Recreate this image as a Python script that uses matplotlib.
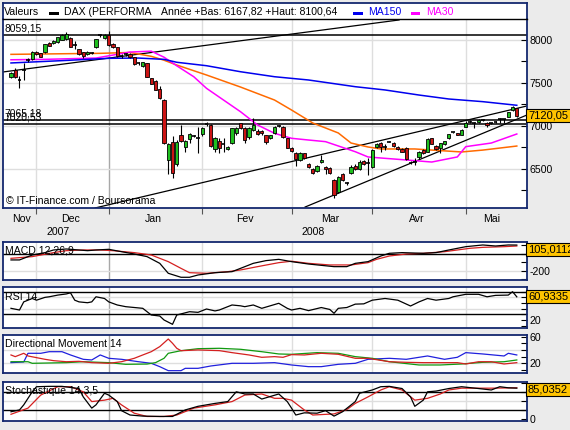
import numpy as np
import matplotlib.pyplot as plt
from matplotlib.patches import Rectangle
from matplotlib.transforms import blended_transform_factory

plt.rcParams.update({
    "font.family": "sans-serif",
    "font.sans-serif": ["Liberation Sans"],
    "font.size": 7.6,
    "axes.unicode_minus": False,
})

# ---------------- data ----------------
opens = [7566, 7651, 7543, 7650, 7765, 7775, 7864, 7845, 7857, 7961,
         7961, 7973, 8000, 8010, 8019, 7945, 7890, 7855, 7833, 7855,
         7915, 8055, 8019, 8058, 7953, 7915, 7815, 7830, 7837, 7799,
         7725, 7698, 7729, 7554, 7523, 7430, 7302, 6605, 6818, 6558,
         6895, 6752, 6845, 6880, 6870, 6903, 7015, 7012, 6729, 6829,
         6780, 6729, 6798, 6915, 7031, 6973, 6868, 6953, 6942, 6942,
         6895, 6857, 6915, 7000, 6984, 6857, 6748, 6690, 6605, 6682,
         6558, 6500, 6477, 6581, 6527, 6510, 6372, 6236, 6442, 6330,
         6450, 6535, 6500, 6593, 6566, 6519, 6752, 6798, 6765, 6820,
         6798, 6760, 6733, 6740, 6570, 6585, 6636, 6721, 6702, 6857,
         6768, 6740, 6790, 6857, 6925, 6915, 6895, 6992, 7050, 7030,
         7043, 7070, 7039, 7030, 7050, 7078, 7080, 7109, 7186, 7205]
highs = [7632, 7671, 7581, 7729, 7787, 7875, 7870, 7850, 7955, 7975,
         8000, 8035, 8075, 8090, 8030, 7990, 7900, 7860, 7870, 7865,
         8010, 8075, 8070, 8100, 7965, 7920, 7840, 7850, 7845, 7805,
         7740, 7745, 7735, 7560, 7530, 7460, 7310, 6800, 6880, 6840,
         7012, 6840, 6915, 6890, 6992, 6990, 7045, 7020, 6870, 6860,
         6857, 6770, 6980, 6990, 7040, 6985, 6985, 7090, 6960, 6950,
         6900, 6900, 6995, 7010, 6995, 6860, 6760, 6700, 6700, 6690,
         6565, 6510, 6545, 6665, 6540, 6520, 6385, 6420, 6450, 6350,
         6545, 6560, 6600, 6610, 6625, 6730, 6800, 6810, 6790, 6830,
         6810, 6765, 6740, 6750, 6590, 6625, 6710, 6730, 6860, 6865,
         6775, 6805, 6830, 6905, 6935, 6920, 6960, 7060, 7070, 7050,
         7080, 7080, 7045, 7040, 7060, 7090, 7085, 7165, 7230, 7215]
lows = [7554, 7554, 7446, 7535, 7748, 7765, 7825, 7800, 7850, 7930,
        7955, 7965, 7995, 8000, 7915, 7890, 7825, 7790, 7820, 7840,
        7905, 8040, 8010, 7935, 7910, 7800, 7790, 7815, 7795, 7715,
        7710, 7690, 7570, 7485, 7415, 7315, 6790, 6440, 6392, 6540,
        6810, 6700, 6800, 6870, 6690, 6880, 7005, 6750, 6700, 6690,
        6700, 6720, 6790, 6900, 6970, 6800, 6850, 6940, 6890, 6900,
        6790, 6845, 6905, 6990, 6860, 6740, 6700, 6530, 6595, 6620,
        6510, 6440, 6470, 6575, 6440, 6440, 6168, 6220, 6360, 6310,
        6440, 6490, 6490, 6550, 6430, 6510, 6740, 6700, 6720, 6810,
        6760, 6720, 6700, 6600, 6560, 6550, 6620, 6680, 6695, 6785,
        6720, 6690, 6780, 6850, 6915, 6890, 6890, 6985, 7040, 6980,
        7035, 7060, 6985, 7020, 7030, 7030, 7040, 7100, 7180, 7110]
closes = [7612, 7566, 7540, 7655, 7770, 7864, 7835, 7806, 7950, 7935,
          7992, 8030, 8058, 8070, 7922, 7940, 7833, 7815, 7864, 7850,
          8008, 8058, 8058, 7942, 7915, 7814, 7818, 7833, 7799, 7721,
          7729, 7740, 7574, 7490, 7420, 7322, 6798, 6790, 6450, 6818,
          6820, 6829, 6903, 6880, 6866, 6973, 7019, 6767, 6857, 6740,
          6785, 6760, 6973, 6973, 6981, 6837, 6973, 7012, 6903, 6915,
          6818, 6895, 6992, 7002, 6868, 6748, 6710, 6612, 6690, 6625,
          6519, 6450, 6535, 6605, 6500, 6458, 6198, 6403, 6372, 6335,
          6527, 6496, 6585, 6558, 6570, 6721, 6791, 6752, 6760, 6818,
          6768, 6729, 6702, 6612, 6574, 6580, 6702, 6682, 6845, 6791,
          6729, 6798, 6826, 6903, 6927, 6895, 6953, 7031, 7052, 7033,
          7070, 7068, 7012, 7031, 7052, 7080, 7078, 7159, 7225, 7120.05]

ma150_i = [0, 12, 23, 30, 36, 39, 46, 54, 62, 70, 81, 88, 96, 103, 111, 119]
ma150_v = [7733, 7760, 7787, 7790, 7775, 7741, 7701, 7631, 7573, 7535, 7457,
           7419, 7360, 7314, 7283, 7241]
ma30_i = [0, 8, 20, 28, 33, 36, 39, 43, 46, 50, 54, 58, 62, 66, 70, 74, 81,
          84, 87, 93, 99, 105, 107, 113, 119]
ma30_v = [7770, 7775, 7790, 7860, 7870, 7800, 7700, 7573, 7438, 7302, 7166,
          7012, 6915, 6857, 6837, 6818, 6701, 6640, 6628, 6605, 6581, 6640,
          6760, 6802, 6907]
ma_or_i = [0, 12, 21, 28, 33, 36, 39, 46, 54, 62, 66, 71, 77, 80, 84, 87, 95,
           106, 111, 119]
ma_or_v = [7833, 7840, 7845, 7855, 7810, 7765, 7709, 7593, 7453, 7302, 7186,
           7035, 6919, 6802, 6756, 6733, 6733, 6698, 6720, 6767]

# user trend lines: (index, price) -> (index, price)
trend_lines = [((-1.9, 7628), (91.3, 8233)),
               ((19.8, 6047), (121.4, 7233)),
               ((69.2, 6058), (121.4, 7128))]
levels = [8059.15, 7065.18, 7020.53]
level_labels = ["8059,15", "7065,18", "7020,53"]

month_starts = [6, 23, 45, 66, 85, 107]
month_names = ["Nov", "Dec", "Jan", "Fev", "Mar", "Avr", "Mai"]
year_names = ["2007", "2008"]

macd_i = [0, 2, 5, 8, 10, 13, 18, 20, 23, 26, 29, 32, 35, 37, 40, 42, 44, 48,
          52, 54, 57, 60, 63, 66, 70, 76, 79, 81, 84, 87, 89, 92, 97, 100, 103,
          107, 111, 114, 117, 119]
macd_v = [-70, -70, -12, 16, 47, 59, 39, 47, 55, 27, 0, -31, -110, -227, -274,
          -274, -247, -220, -208, -169, -110, -78, -63, -90, -118, -149, -149,
          -110, -90, -24, 8, 16, 8, 16, 47, 86, 106, 94, 106, 105.01]
sig_i = [0, 5, 10, 13, 17, 21, 24, 29, 33, 37, 40, 42, 46, 51, 54, 58, 63, 66,
         70, 75, 80, 84, 86, 89, 93, 97, 102, 105, 108, 111, 116, 119]
sig_v = [-51, -31, 16, 39, 47, 47, 39, 16, -12, -90, -169, -220, -227, -208,
         -188, -149, -102, -85, -110, -129, -129, -102, -63, -24, 0, 8, 27, 47,
         67, 78, 86, 94]

rsi_i = [0, 2, 3, 5, 6, 8, 9, 11, 13, 14, 15, 16, 18, 19, 20, 22, 23, 25, 27,
         31, 33, 35, 36, 38, 39, 42, 44, 46, 48, 49, 52, 54, 55, 57, 59, 63, 65,
         66, 68, 70, 73, 75, 76, 77, 79, 81, 83, 85, 88, 91, 94, 96, 98, 100,
         103, 104, 107, 110, 112, 114, 117, 118, 119]
rsi_v = [40.6, 37.6, 52, 58, 55, 60, 61, 64, 66, 68, 55, 52, 50.5, 52, 61, 58,
         52, 46.5, 43.5, 40.6, 28.8, 27, 20, 12.3, 28.8, 34.6, 33.5, 39.4, 36,
         37.6, 46.5, 45, 43.5, 46.5, 40.6, 49.5, 40.6, 37.6, 40.6, 36.5, 42,
         38.6, 31.8, 40.6, 42, 48, 48.5, 55, 58, 55, 44.7, 52, 58, 55, 58, 61,
         65.4, 65.4, 61, 63.5, 64, 70, 60.93]

dmr_i = [0, 1, 3, 4, 8, 10, 13, 16, 19, 23, 26, 29, 31, 33, 35, 37, 38, 39, 40,
         44, 49, 52, 56, 59, 62, 64, 66, 69, 73, 77, 81, 84, 89, 93, 97, 101,
         105, 107, 110, 113, 116, 119]
dmr_v = [32.5, 30, 35, 31, 26, 24, 22.4, 23, 21, 20, 22.4, 27.5, 32.5, 37.4,
         45, 56.4, 50, 42.5, 38.9, 40, 39, 36, 32.5, 29, 30, 29, 33, 32.5, 35,
         33.5, 27.5, 27.5, 22.4, 21.5, 21, 21, 21, 19, 22.4, 22.4, 19, 21]
dmg_i = [0, 4, 5, 13, 17, 23, 27, 32, 34, 36, 37, 40, 44, 49, 54, 59, 63, 66,
         72, 77, 81, 85, 89, 96, 101, 106, 111, 116, 119]
dmg_v = [22.4, 22.4, 20, 21, 22.4, 21, 18.5, 18.9, 21, 27.5, 35, 38.9, 41.9,
         42.5, 41, 37.4, 34, 33.5, 36, 35, 30, 27.5, 22.4, 17.5, 17.5, 19, 21.5,
         22.4, 25]
dmb_i = [0, 3, 4, 7, 9, 12, 14, 17, 19, 21, 23, 26, 30, 33, 35, 37, 40, 41, 44,
         47, 52, 57, 62, 66, 70, 73, 77, 81, 84, 89, 93, 98, 102, 105, 107, 111,
         116, 117, 119]
dmb_v = [21, 22, 35, 35, 37.4, 37.4, 32.5, 26, 25, 32.5, 27.5, 26, 22.4, 20,
         15, 9, 9, 12.5, 12.5, 16, 20, 20, 21, 17.5, 15, 15, 18.5, 20, 26, 27.5,
         26, 31, 26, 29, 36, 34, 31, 35, 32.5]

stk_i = [0, 2, 3, 5, 6, 9, 12, 16, 17, 19, 20, 22, 23, 25, 26, 28, 31, 35, 38,
         41, 44, 48, 51, 53, 55, 57, 59, 63, 65, 66, 67, 69, 72, 74, 76, 78, 81,
         82, 85, 87, 89, 92, 94, 95, 97, 98, 100, 103, 106, 110, 113, 115, 117,
         119]
stk_v = [20, 25, 39, 75, 89, 90, 90, 84, 61, 30, 39, 71, 66, 48, 23, 11, 8, 7,
         7, 25, 35, 43, 48, 75, 69, 69, 55, 69, 48, 30, 11, 17, 16, 23, 8, 20,
         48, 71, 80, 89, 90, 84, 61, 35, 52, 75, 77, 84, 89, 84, 80, 89, 86,
         85.04]
std_i = [0, 4, 7, 11, 14, 17, 19, 22, 24, 26, 29, 32, 36, 39, 43, 48, 52, 55,
         59, 62, 64, 66, 69, 71, 76, 79, 81, 84, 87, 89, 92, 95, 98, 101, 103,
         106, 113, 119]
std_v = [13, 30, 66, 89, 89, 75, 48, 52, 57, 39, 16, 7, 7, 11, 30, 39, 48, 66,
         69, 57, 57, 52, 25, 11, 14, 26, 43, 61, 80, 89, 80, 52, 57, 69, 80, 85,
         85, 86]

# ---------------- styling ----------------
W, H = 570, 430
BG = "#ebebeb"
NAVY = "#14286e"
GRID = "#dedede"
YEARGRID = "#a8a8a8"
UP, DOWN = "#1fbf1f", "#cc1414"
RED = "#d42020"
GOLD = "#ffc400"
XMIN, XMAX = -1.88, 121.4

n = len(opens)
idx = np.arange(n)

fig = plt.figure(figsize=(W / 100, H / 100), dpi=100, facecolor=BG)


def px_axes(x0, y0, x1, y1):
    ax = fig.add_axes([x0 / W, 1 - y1 / H, (x1 - x0) / W, (y1 - y0) / H])
    ax.set_facecolor("white")
    for s in ax.spines.values():
        s.set_color(NAVY)
        s.set_linewidth(1.3)
    return ax


def panel(y0, y1, ylim):
    ax = px_axes(3, y0, 527, y1)
    ax.set_xlim(XMIN, XMAX)
    ax.set_ylim(*ylim)
    for m in month_starts:
        ax.axvline(m, color=YEARGRID if m == 23 else GRID, lw=1.0, zorder=0)
    ax.set_xticks([])
    ax.yaxis.tick_right()
    ax.tick_params(axis="y", which="both", direction="in", length=4,
                   width=0.8, pad=2, labelsize=7.6)
    return ax


def value_box(y, text):
    fig.add_artist(Rectangle((526 / W, 1 - (y + 6.5) / H), 46 / W, 13 / H,
                             transform=fig.transFigure, fc=GOLD, ec="k",
                             lw=0.8, zorder=10))
    fig.text(528 / W, 1 - y / H, text, ha="left", va="center", fontsize=8,
             zorder=11)


def ftext(x, y, s, **kw):
    fig.text(x / W, 1 - y / H, s, va="center", ha="left", zorder=12, **kw)


# ---------------- header ----------------
head = px_axes(3, 3, 527, 18.5)
head.set_xticks([])
head.set_yticks([])
head.spines["bottom"].set_visible(False)
ftext(4, 12, "Valeurs")
fig.add_artist(Rectangle((49 / W, 1 - 15 / H), 10 / W, 3.3 / H,
                         transform=fig.transFigure, fc="k", ec="none"))
ftext(64, 12, "DAX (PERFORMA")
ftext(161, 12, "Année +Bas: 6167,82 +Haut: 8100,64")
fig.add_artist(Rectangle((352.5 / W, 1 - 15 / H), 10 / W, 3.3 / H,
                         transform=fig.transFigure, fc="#0000ee", ec="none"))
ftext(368, 12, "MA150", color="#0000ee")
fig.add_artist(Rectangle((410.5 / W, 1 - 15 / H), 10 / W, 3.3 / H,
                         transform=fig.transFigure, fc="#ff00ff", ec="none"))
ftext(426, 12, "MA30", color="#ff00ff")

# ---------------- price panel ----------------
ax = panel(18.5, 208, (6046.5, 8250))
ax.spines["top"].set_color("k")
ax.spines["top"].set_linewidth(1.0)
for p in [6500, 7000, 7500, 8000]:
    ax.axhline(p, color=GRID, lw=1.0, zorder=0)
ax.set_yticks([6500, 7000, 7500, 8000])
ax.set_yticks([6250, 6750, 7250, 7750], minor=True)
ax.set_xticks(month_starts)
ax.tick_params(axis="x", direction="out", length=4, width=0.8,
               labelbottom=False, color="#555555")

for (a, b) in trend_lines:
    ax.plot([a[0], b[0]], [a[1], b[1]], color="k", lw=0.9, zorder=2)
for lv, lab in zip(levels, level_labels):
    ax.axhline(lv, color="k", lw=1.1, zorder=2)
    ax.annotate(lab, (XMIN + 0.4, lv), xytext=(0, 1.2),
                textcoords="offset points", va="bottom", ha="left",
                fontsize=7.4)

ax.plot(ma_or_i, ma_or_v, color="#ff6a00", lw=1.1, zorder=2.5)
ax.plot(ma30_i, ma30_v, color="#ff00ff", lw=1.1, zorder=2.5)
ax.plot(ma150_i, ma150_v, color="#0000ee", lw=1.1, zorder=2.5)

for i in idx:
    o, h, l, c = opens[i], highs[i], lows[i], closes[i]
    ax.vlines(i, l, h, color="k", lw=0.8, zorder=3)
    if abs(c - o) <= 5:
        ax.hlines(c, i - 0.45, i + 0.45, color="k", lw=1.2, zorder=4)
    else:
        ax.add_patch(Rectangle((i - 0.4, min(o, c)), 0.8, abs(c - o),
                               fc=UP if c > o else DOWN, ec="k", lw=0.6,
                               zorder=4))

ax.text(0.006, 0.037, "© IT-Finance.com / Boursorama", transform=ax.transAxes,
        va="center", ha="left", fontsize=7.6)
value_box(115.5, "7120,05")

# month / year labels below the price panel
bounds = [0] + month_starts + [n]
xt = blended_transform_factory(ax.transData, fig.transFigure)
for k, name in enumerate(month_names):
    ctr = (bounds[k] + bounds[k + 1] - 1) / 2
    ax.text(ctr, 1 - 219 / H, name, transform=xt, ha="center", va="center",
            fontsize=7.6)
for name, (a, b) in zip(year_names, [(0, 22), (23, n - 1)]):
    ax.text((a + b) / 2, 1 - 232 / H, name, transform=xt, ha="center",
            va="center", fontsize=7.6)

# ---------------- MACD ----------------
axm = panel(242, 280, (-306, 141))
axm.axhline(-200, color=GRID, lw=1.0, zorder=0)
axm.axhline(0, color="k", lw=1.0, zorder=1)
axm.plot(sig_i, sig_v, color=RED, lw=0.9, zorder=2)
axm.plot(macd_i, macd_v, color="k", lw=0.9, zorder=3)
axm.set_yticks([-200])
axm.set_yticks([-300, -100, 0, 100], minor=True)
ftext(5, 250.7, "MACD 12,26,9")
value_box(249, "105,0112")

# ---------------- RSI ----------------
axr = panel(287, 328, (5.8, 78.3))
for g in [40, 60]:
    axr.axhline(g, color=GRID, lw=1.0, zorder=0)
axr.axhline(70, color="k", lw=1.0, zorder=1)
axr.axhline(30, color="k", lw=1.0, zorder=1)
axr.plot(rsi_i, rsi_v, color="k", lw=0.9, zorder=3)
axr.set_yticks([20])
axr.set_yticks([10, 30, 40, 50, 60, 70], minor=True)
ftext(5, 296.7, "RSI 14")
value_box(296.5, "60,9335")

# ---------------- Directional Movement ----------------
axd = panel(335, 373, (5.5, 62.4))
for g in [20, 40]:
    axd.axhline(g, color=GRID, lw=1.0, zorder=0)
axd.plot(dmb_i, dmb_v, color="#2020dd", lw=0.9, zorder=2)
axd.plot(dmg_i, dmg_v, color="#109910", lw=0.9, zorder=2)
axd.plot(dmr_i, dmr_v, color=RED, lw=0.9, zorder=3)
axd.set_yticks([20, 60])
axd.set_yticks([10, 30, 40, 50], minor=True)
ftext(5, 344, "Directional Movement 14")

# ---------------- Stochastique ----------------
axs = panel(382, 421, (-5.5, 102))
axs.axhline(50, color=GRID, lw=1.0, zorder=0)
axs.axhline(75, color="k", lw=1.0, zorder=1)
axs.axhline(25, color="k", lw=1.0, zorder=1)
axs.plot(std_i, std_v, color=RED, lw=0.9, zorder=2)
axs.plot(stk_i, stk_v, color="k", lw=0.9, zorder=3)
axs.set_yticks([0])
axs.set_yticks([25, 50, 75, 100], minor=True)
ftext(5, 390.7, "Stochastique 14,3,5")
value_box(389.7, "85,0352")

fig.savefig("out.png", dpi=100, facecolor=BG)
